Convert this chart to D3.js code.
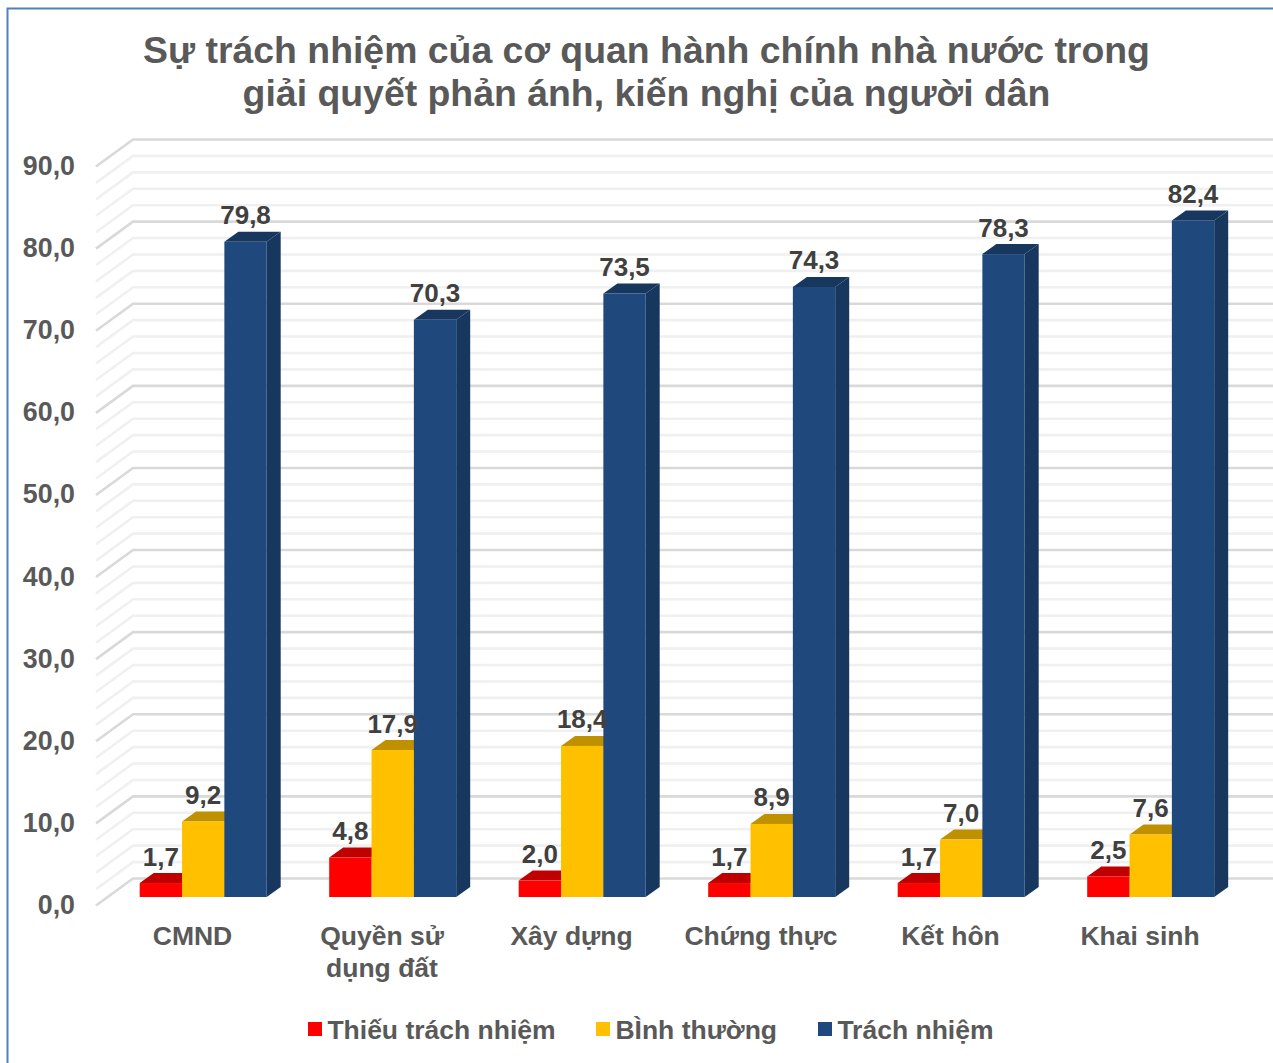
<!DOCTYPE html>
<html>
<head>
    <meta charset="utf-8">
    <title>Sự trách nhiệm</title>
    <script src="https://d3js.org/d3.v7.min.js"></script>
    <style>
        html, body { margin: 0; padding: 0; background: #fff; overflow: hidden; }
        text { font-family: "Liberation Sans", Arial, sans-serif; font-weight: bold; }
    </style>
</head>
<body>
    <div id="chart"></div>
    <script>
        var categories = [["CMND"], ["Quyền sử", "dụng đất"], ["Xây dựng"], ["Chứng thực"], ["Kết hôn"], ["Khai sinh"]];
        var seriesNames = ["Thiếu trách nhiệm", "BÌnh thường", "Trách nhiệm"];
        var thieu = [1.7, 4.8, 2.0, 1.7, 1.7, 2.5];
        var binhThuong = [9.2, 17.9, 18.4, 8.9, 7.0, 7.6];
        var trachNhiem = [79.8, 70.3, 73.5, 74.3, 78.3, 82.4];
        var yTicks = [0, 10, 20, 30, 40, 50, 60, 70, 80, 90];
        var minorTicks = d3.range(0, 91, 2);
        var titleLines = ["Sự trách nhiệm của cơ quan hành chính nhà nước trong", "giải quyết phản ánh, kiến nghị của người dân"];

        var allSeries = [thieu, binhThuong, trachNhiem];
        var faces = [
            { front: "#ff0000", top: "#bf0000", side: "#bf0000" },
            { front: "#ffc000", top: "#bf9000", side: "#bf9000" },
            { front: "#1f497d", top: "#17375e", side: "#17375e" }
        ];
        var comma = function(v) { return d3.format(".1f")(v).replace(".", ","); };

        var width = 1273, height = 1063;
        var svg = d3.select("#chart").append("svg")
            .attr("width", width)
            .attr("height", height);

        // khung
        svg.append("path")
            .attr("d", "M7.5,1063V8.5H1273")
            .attr("fill", "none")
            .attr("stroke", "#4f81bd")
            .attr("stroke-width", 2);

        // tieu de
        svg.selectAll("text.title")
            .data(titleLines)
            .enter().append("text")
            .attr("class", "title")
            .attr("x", 646.5)
            .attr("y", (d, i) => 63 + i * 43)
            .attr("text-anchor", "middle")
            .attr("font-size", "37.4px")
            .attr("fill", "#595959")
            .text(d => d);

        // y la mat truoc cua cot, tuong sau lech di
        var y = d3.scaleLinear().domain([0, 90]).range([897, 158]);
        var x0 = d3.scaleBand().domain(d3.range(categories.length)).range([108.45, 1245.45]);
        var x1 = d3.scaleBand().domain(d3.range(3)).range([0, 127]);
        var groupLeft = i => x0(i) + (x0.bandwidth() - 127) / 2;
        var depth = { x: 14, y: 10 };
        var wall = { left: 96, back: 133, frontOff: 8.5, backOff: -18.5 };

        // luoi
        var grid = svg.append("g");
        minorTicks.forEach(function(t) {
            var major = t % 10 === 0;
            var yy = y(t);
            grid.append("path")
                .attr("d", "M" + wall.left + "," + (yy + wall.frontOff) + "L" + wall.back + "," + (yy + wall.backOff) + "H" + width)
                .attr("fill", "none")
                .attr("stroke", major ? "#d9d9d9" : "#f0f0f0")
                .attr("stroke-width", 2.6);
        });

        // nhan truc y
        svg.selectAll("text.tick")
            .data(yTicks)
            .enter().append("text")
            .attr("class", "tick")
            .attr("x", 75)
            .attr("y", d => y(d) + 17)
            .attr("text-anchor", "end")
            .attr("font-size", "26.8px")
            .attr("fill", "#595959")
            .text(comma);

        // cot 3d
        var bars = [];
        categories.forEach(function(c, i) {
            allSeries.forEach(function(s, j) {
                bars.push({ i: i, j: j, v: s[i] });
            });
        });
        var barG = svg.selectAll("g.bar")
            .data(bars)
            .enter().append("g")
            .attr("class", "bar");

        barG.append("path")
            .attr("fill", d => faces[d.j].side)
            .attr("d", function(d) {
                var r = groupLeft(d.i) + x1(d.j) + x1.bandwidth();
                return "M" + r + "," + y(d.v) + "l" + depth.x + "," + (-depth.y) + "V" + (y(0) - depth.y) + "L" + r + "," + y(0) + "Z";
            });
        barG.append("path")
            .attr("fill", d => faces[d.j].top)
            .attr("d", function(d) {
                var l = groupLeft(d.i) + x1(d.j);
                return "M" + l + "," + y(d.v) + "l" + depth.x + "," + (-depth.y) + "h" + x1.bandwidth() + "l" + (-depth.x) + "," + depth.y + "Z";
            });
        barG.append("rect")
            .attr("x", d => groupLeft(d.i) + x1(d.j))
            .attr("y", d => y(d.v))
            .attr("width", x1.bandwidth())
            .attr("height", d => y(0) - y(d.v))
            .attr("fill", d => faces[d.j].front);

        // nhan gia tri
        svg.selectAll("text.val")
            .data(bars)
            .enter().append("text")
            .attr("class", "val")
            .attr("x", d => groupLeft(d.i) + x1(d.j) + x1.bandwidth() / 2)
            .attr("y", d => y(d.v) - 17.5)
            .attr("text-anchor", "middle")
            .attr("font-size", "26px")
            .attr("fill", "#404040")
            .text(d => comma(d.v));

        // nhan nhom
        var catG = svg.selectAll("text.cat")
            .data(categories)
            .enter().append("text")
            .attr("class", "cat")
            .attr("text-anchor", "middle")
            .attr("font-size", "26.5px")
            .attr("fill", "#595959")
            .attr("transform", (d, i) => "translate(" + (groupLeft(i) + 63.5 - 10.7) + ",945)");
        catG.selectAll("tspan")
            .data(d => d)
            .enter().append("tspan")
            .attr("x", 0)
            .attr("y", (d, i) => i * 32)
            .text(d => d);

        // chu giai
        var legendX = [308, 596, 818];
        var legend = svg.selectAll("g.legend")
            .data(seriesNames)
            .enter().append("g")
            .attr("class", "legend")
            .attr("transform", (d, i) => "translate(" + legendX[i] + ",1022)");
        legend.append("rect")
            .attr("width", 14)
            .attr("height", 14)
            .attr("fill", (d, i) => faces[i].front);
        legend.append("text")
            .attr("x", 19.4)
            .attr("y", 17)
            .attr("font-size", "26.5px")
            .attr("fill", "#595959")
            .text(d => d);
    </script>
</body>
</html>
